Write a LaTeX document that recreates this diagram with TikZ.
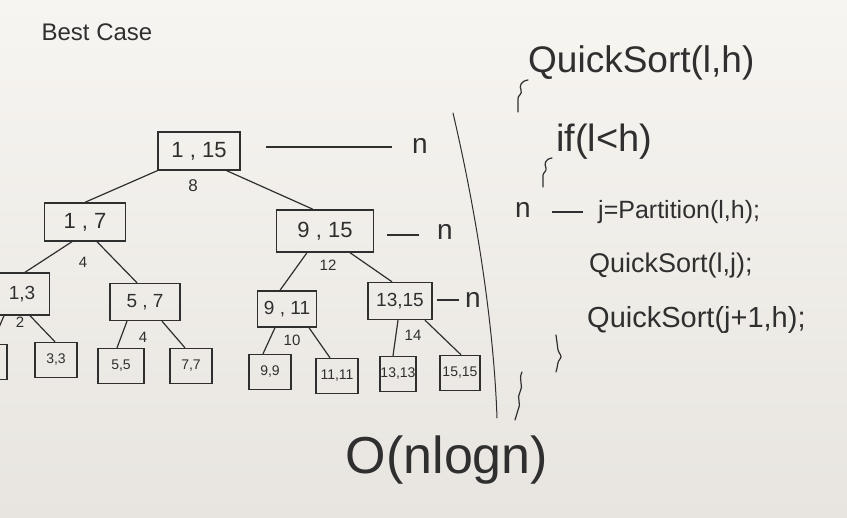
\documentclass[tikz,border=0pt]{standalone}
\usepackage{fontspec}
\setmainfont{Liberation Sans}
\definecolor{ink}{HTML}{2F2F2F}
\definecolor{bgtop}{HTML}{F7F5F1}
\definecolor{bgbot}{HTML}{E8E5E0}
\tikzset{
  box/.style={draw=ink, line width=1.4pt, inner sep=0pt, text=ink},
  bigbox/.style={box, minimum width=82pt, minimum height=38pt, font=\fontsize{22}{24}\selectfont},
  midbox/.style={box, minimum width=62pt, minimum height=37pt, font=\fontsize{19}{21}\selectfont},
  leafbox/.style={box, minimum width=42pt, minimum height=35pt, font=\fontsize{14}{16}\selectfont},
  edge/.style={draw=ink, line width=1.2pt},
  num/.style={text=ink, inner sep=0pt, font=\fontsize{15}{17}\selectfont},
  lbl/.style={text=ink, inner sep=0pt, font=\fontsize{28}{30}\selectfont},
  code/.style={text=ink, inner sep=0pt, anchor=west},
  stroke/.style={draw=ink, line width=1.2pt, line cap=round}
}
\begin{document}
\begin{tikzpicture}[x=1pt,y=-1pt]
\useasboundingbox (0,0) rectangle (847,518);
\clip (0,0) rectangle (847,518);
\shade[top color=bgtop, bottom color=bgbot] (0,0) rectangle (847,518);

% title
\node[text=ink, font=\fontsize{24}{26}\selectfont, inner sep=0pt] (title) at (97,32) {Best Case};

% tree nodes
\node[bigbox] (root) at (199,151) {1 , 15};
\node[bigbox, minimum width=81pt] (n17) at (85,222) {1 , 7};
\node[bigbox, minimum width=97pt, minimum height=42pt] (n915) at (325,231) {9 , 15};
\node[midbox, minimum width=55pt, minimum height=42pt] (n13) at (22,294) {1,3};
\node[midbox, minimum width=70pt] (n57) at (145,302) {5 , 7};
\node[midbox, minimum width=59pt, minimum height=36pt] (n911) at (287,309) {9 , 11};
\node[midbox, minimum width=64pt] (n1315) at (400,301) {13,15};

\node[leafbox] (l11) at (-14,362) {};
\node[leafbox] (l33) at (56,360) {3,3};
\node[leafbox, minimum width=46pt] (l55) at (121,366) {5,5};
\node[leafbox] (l77) at (191,366) {7,7};
\node[leafbox] (l99) at (270,372) {9,9};
\node[leafbox] (l1111) at (337,376) {11,11};
\node[leafbox, minimum width=36pt] (l1313) at (398,374) {13,13};
\node[leafbox, minimum width=40pt] (l1515) at (460,373) {15,15};

% pivot numbers
\node[num, font=\fontsize{17}{19}\selectfont] (p8) at (193,186) {8};
\node[num] (p4a) at (83,262) {4};
\node[num] (p12) at (328,265) {12};
\node[num] (p2) at (20,322) {2};
\node[num] (p4b) at (143,337) {4};
\node[num] (p10) at (292,340) {10};
\node[num] (p14) at (413,335) {14};

% edges
\draw[edge] (root.south west) -- (n17.north);
\draw[edge] ([xshift=-14pt]root.south east) -- ([xshift=-12pt]n915.north);
\draw[edge] ([xshift=-13pt]n17.south) -- ([xshift=3pt]n13.north);
\draw[edge] ([xshift=12pt]n17.south) -- ([xshift=-8pt]n57.north);
\draw[edge] ([xshift=-18pt]n915.south) -- ([xshift=-7pt]n911.north);
\draw[edge] ([xshift=25pt]n915.south) -- ([xshift=-8pt]n1315.north);
\draw[edge] ([xshift=-18pt]n13.south) -- ([xshift=6pt]l11.north);
\draw[edge] ([xshift=8pt]n13.south) -- ([xshift=-1pt]l33.north);
\draw[edge] ([xshift=-18pt]n57.south) -- ([xshift=-4pt]l55.north);
\draw[edge] ([xshift=17pt]n57.south) -- ([xshift=-6pt]l77.north);
\draw[edge] ([xshift=-12pt]n911.south) -- ([xshift=-7pt]l99.north);
\draw[edge] ([xshift=22pt]n911.south) -- ([xshift=-7pt]l1111.north);
\draw[edge] ([xshift=-2pt]n1315.south) -- ([xshift=-5pt]l1313.north);
\draw[edge] ([xshift=25pt]n1315.south) -- ([xshift=1pt]l1515.north);

% level costs
\node[lbl] (c1) at (420,146) {n};
\node[lbl] (c2) at (445,232) {n};
\node[lbl] (c3) at (473,300) {n};
\coordinate (c1s) at (266,147);
\coordinate (c2s) at (387,235);
\coordinate (c3s) at (437,300);
\draw[edge] (c1s) -- ([xshift=-20pt]c1.west |- c1s);
\draw[edge] (c2s) -- ([xshift=-18pt]c2.west |- c2s);
\draw[edge] (c3s) -- ([xshift=-6pt]c3.west |- c3s);

% separator curve
\draw[stroke, line width=1pt] (453,113) .. controls (478,220) and (494,330) .. (497,418);

% complexity
\node[text=ink, inner sep=0pt, font=\fontsize{52}{56}\selectfont] (big) at (447,460) {O(nlogn)};

% code
\node[code, font=\fontsize{37}{40}\selectfont] (qs) at (528,63) {QuickSort(l,h)};
\node[code, font=\fontsize{38}{40}\selectfont] (ifl) at (556,142) {if(l<h)};
\node[lbl] (cn) at (523,210) {n};
\node[code, font=\fontsize{25}{27}\selectfont] (part) at (598,212) {j=Partition(l,h);};
\coordinate (ps) at (552,212);
\draw[edge] (ps) -- ([xshift=-15pt]part.west);
\node[code, font=\fontsize{27}{29}\selectfont] (q1) at (589,266) {QuickSort(l,j);};
\node[code, font=\fontsize{29}{31}\selectfont] (q2) at (587,320) {QuickSort(j+1,h);};

% braces
\draw[stroke] (528,80) .. controls (521,81) and (519,86) .. (521,90) .. controls (523,94) and (517,96) .. (518,99) -- (518,112);
\draw[stroke] (552,158) .. controls (545,159) and (544,164) .. (546,168) .. controls (547,172) and (542,173) .. (543,176) -- (543,187);
\draw[stroke] (556,335) -- (558,350) .. controls (559,354) and (563,356) .. (560,359) .. controls (557,362) and (558,366) .. (556,372);
\draw[stroke] (522,372) .. controls (518,380) and (524,386) .. (520,392) .. controls (516,398) and (522,404) .. (518,410) -- (515,420);
\end{tikzpicture}
\end{document}
